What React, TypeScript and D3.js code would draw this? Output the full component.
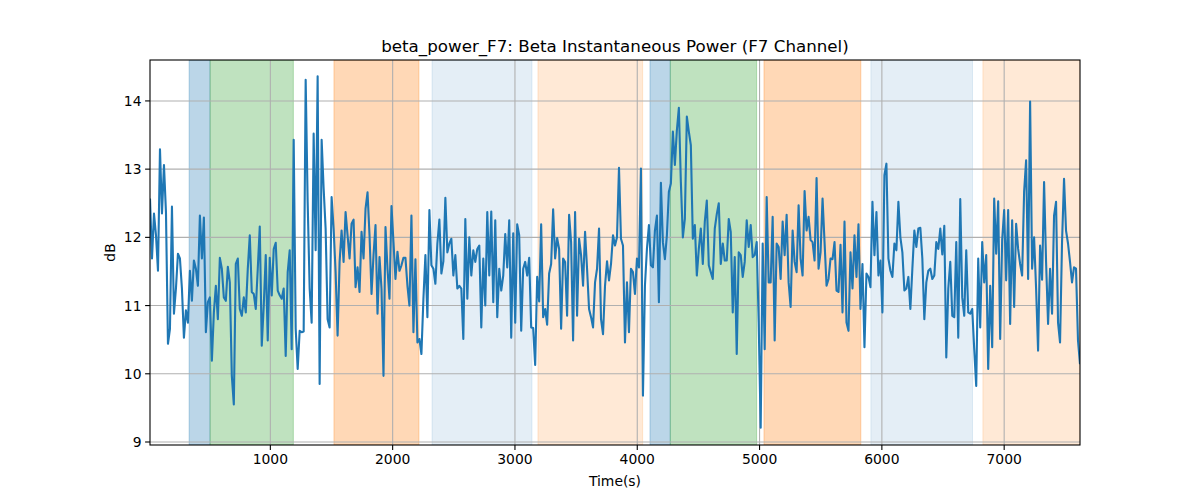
import { useEffect } from "react";
import { scaleLinear, line, range } from "d3";

// beta power samples (dB) left to right
const seg1 = [
  12.57, 11.69, 12.35, 12.03, 11.51, 13.29, 12.35, 13.06, 12.37, 10.44,
  10.66, 12.45, 10.88, 11.25, 11.76, 11.69, 11.25, 10.53, 10.93, 10.75,
  11.51, 11.07, 11.66, 11.54, 11.29, 12.32, 11.69, 12.29, 10.61, 11.05,
  11.12, 10.19, 10.9, 11.29, 10.8, 11.7, 11.54, 11.12, 11.07, 11.57,
  11.34, 9.97, 9.55, 11.61, 11.69, 10.95, 10.85, 11.12, 10.9, 11.54,
  12.03, 11.2, 11.17, 10.95, 11.54, 12.16, 10.41, 11.0, 11.74, 10.49,
  11.7, 11.15, 11.83, 11.92, 11.22, 11.15, 11.1, 11.25, 10.26, 11.49,
  11.81, 10.36, 13.43, 10.66, 10.07, 10.63, 10.61, 10.62,
];
const seg2 = [
  14.31, 12.52, 11.25, 10.75, 13.52, 11.81, 14.36, 9.85, 13.43, 12.72,
  12.13, 10.8, 10.68, 12.59, 12.13, 11.49, 10.56, 11.64, 12.1, 11.64,
  12.37, 12.03, 11.69, 12.2, 12.26, 11.27, 11.56, 11.2, 12.08, 11.69,
  12.42, 12.66, 12.03, 11.17, 11.74, 12.18, 10.88, 11.71, 11.25, 9.97,
  12.15, 11.54, 11.1, 12.46, 11.93, 11.39, 11.79, 11.51, 11.59, 11.7,
  11.7, 11.29, 11.0, 12.32, 10.61, 11.68, 10.46, 10.51, 10.29, 11.1,
  11.74, 10.83, 12.4, 11.59, 11.54, 11.32, 11.91, 12.26, 11.47, 11.65,
  12.58, 11.78, 11.91, 11.98, 11.44, 11.74, 11.25,
];
const seg3 = [
  11.29, 11.25, 10.51, 12.27, 11.1, 12.0, 11.44, 11.81, 11.64, 11.83,
  11.88, 10.68, 11.69, 11.0, 12.37, 11.44, 12.38, 11.05, 12.25, 10.83,
  11.54, 11.22, 11.44, 12.05, 11.56, 12.25, 10.53, 12.06, 10.75, 12.19,
  12.03, 10.63, 11.54, 11.64, 11.44, 11.7, 10.68, 10.67, 10.13, 11.42,
  11.06, 12.19, 10.83, 10.95, 10.72, 11.47, 11.61, 12.41, 11.69, 11.99,
  11.83, 10.66, 11.69, 11.64, 10.85, 12.33, 11.93, 10.49, 12.37, 10.85,
  11.98, 11.74, 11.29, 12.08, 11.54, 10.95, 10.83, 10.68, 11.34, 11.54,
  12.13, 10.8, 10.58, 11.29, 11.65, 11.37, 11.61, 12.03,
];
const seg4 = [
  11.88, 12.0, 13.02, 11.98, 11.88, 10.46, 11.34, 10.61, 11.54, 11.49,
  11.17, 11.69, 11.56, 13.01, 9.68, 11.29, 11.83, 12.18, 11.59, 11.56,
  12.1, 12.32, 11.05, 12.8, 11.93, 11.68, 12.03, 12.67, 12.79, 13.55,
  13.06, 13.57, 13.9, 12.81, 12.0, 12.27, 13.77, 13.55, 13.35, 11.98,
  12.18, 11.44, 11.83, 12.13, 11.61, 12.23, 12.54, 11.59, 11.49, 11.39,
  12.13, 12.34, 12.5, 11.61, 11.91, 11.66, 11.66, 12.27, 12.08, 10.9,
  11.71, 10.29, 11.78, 11.74, 11.42, 11.64, 12.25, 11.86, 12.18, 11.71,
  11.74, 11.93, 10.75, 9.21, 11.91, 10.36, 12.59, 11.34,
];
const seg5 = [
  11.34, 12.3, 10.49, 11.91, 11.86, 11.39, 12.23, 11.74, 12.33, 11.34,
  10.98, 12.1, 11.64, 11.49, 12.47, 11.69, 11.44, 12.68, 12.1, 12.3,
  11.96, 11.93, 11.66, 12.87, 11.54, 11.78, 12.57, 11.93, 11.29, 11.39,
  11.69, 11.68, 11.93, 11.22, 11.2, 11.89, 10.9, 12.23, 10.75, 10.63,
  11.78, 11.25, 12.03, 11.42, 12.19, 10.95, 11.61, 10.39, 11.47, 11.42,
  11.27, 12.52, 11.74, 12.37, 11.44, 11.66, 10.9, 12.91, 13.08, 11.69,
  11.51, 11.42, 11.91, 11.81, 12.52, 12.0, 11.78, 11.22, 11.25, 11.42,
  10.95, 11.54, 12.1, 11.86, 12.13, 12.14, 11.69, 10.8,
];
const seg6 = [
  11.34, 11.51, 11.54, 11.39, 11.44, 11.93, 11.83, 12.13, 11.75, 12.17,
  10.24, 11.25, 11.64, 10.85, 10.83, 11.93, 10.53, 12.56, 11.12, 10.85,
  11.81, 10.9, 10.88, 10.95, 10.36, 9.82, 11.69, 10.68, 11.93, 11.34,
  11.74, 10.07, 11.29, 10.39, 12.57, 11.76, 12.53, 10.51, 11.96, 12.4,
  11.37, 12.4, 10.73, 12.25, 10.98, 12.2, 11.83, 11.61, 11.44, 12.67,
  13.13, 11.39, 13.99, 11.54, 12.0, 11.25, 10.34, 11.88, 11.38, 12.81,
  11.64, 10.73, 11.54, 10.88, 12.32, 12.52, 10.75, 10.46, 11.93, 12.86,
  12.1, 11.91, 11.64, 11.34, 11.56, 11.54, 10.49, 10.14,
];
const betaPower = [...seg1, ...seg2, ...seg3, ...seg4, ...seg5, ...seg6];
const tStart = 16;
const tEnd = 7620;

// shaded stages
const spanStart = [336, 507, 1520, 2322, 3188, 4104, 4270, 5036, 5910, 6826];
const spanEnd = [507, 1188, 2215, 3139, 4044, 4270, 4976, 5828, 6741, 7620];
const spanKind = ["b", "g", "o", "lb", "lo", "b", "g", "o", "lb", "lo"];
const spanColor: Record<string, [string, number]> = {
  b: ["#1f77b4", 0.3],
  g: ["#2ca02c", 0.3],
  o: ["#ff7f0e", 0.3],
  lb: ["#1f77b4", 0.12],
  lo: ["#ff7f0e", 0.17],
};

const xTicks = [1000, 2000, 3000, 4000, 5000, 6000, 7000];
const yTicks = [9, 10, 11, 12, 13, 14];

const W = 1200;
const H = 500;
const m = { left: 150, right: 1080, top: 60, bottom: 445 };
const font = "DejaVu Sans, sans-serif";

export default function App() {
  useEffect(() => {
    document.body.style.margin = "0";
  }, []);

  const dt = (tEnd - tStart) / (betaPower.length - 1);
  const times = range(betaPower.length).map((i) => tStart + i * dt);

  const x = scaleLinear().domain([tStart, tEnd]).range([m.left, m.right]);
  const y = scaleLinear().domain([8.956, 14.6]).range([m.bottom, m.top]);

  const path = line<number>()
    .x((d, i) => x(times[i]))
    .y((d) => y(d))(betaPower);

  return (
    <svg width={W} height={H} style={{ display: "block", background: "#fff" }}>
      <defs>
        <clipPath id="plot">
          <rect x={m.left} y={m.top} width={m.right - m.left} height={m.bottom - m.top} />
        </clipPath>
      </defs>
      <g clipPath="url(#plot)">
        {spanStart.map((s, i) => {
          const [c, a] = spanColor[spanKind[i]];
          return (
            <rect
              key={i}
              x={x(s)}
              y={m.top}
              width={x(spanEnd[i]) - x(s)}
              height={m.bottom - m.top}
              fill={c}
              fillOpacity={a}
              stroke={c}
              strokeOpacity={a}
              strokeWidth={1}
            />
          );
        })}
        {xTicks.map((t) => (
          <line key={t} x1={x(t)} x2={x(t)} y1={m.top} y2={m.bottom} stroke="#b0b0b0" strokeWidth={1.1} />
        ))}
        {yTicks.map((t) => (
          <line key={t} x1={m.left} x2={m.right} y1={y(t)} y2={y(t)} stroke="#b0b0b0" strokeWidth={1.1} />
        ))}
        <path d={path ?? ""} fill="none" stroke="#1f77b4" strokeWidth={2.1} strokeLinejoin="round" />
      </g>
      <rect
        x={m.left}
        y={m.top}
        width={m.right - m.left}
        height={m.bottom - m.top}
        fill="none"
        stroke="#000"
        strokeWidth={1.1}
      />
      {xTicks.map((t) => (
        <g key={t} transform={`translate(${x(t)},${m.bottom})`}>
          <line y2={4.9} stroke="#000" strokeWidth={1.1} />
          <text y={19} textAnchor="middle" fontFamily={font} fontSize={13.9} fill="#000">
            {t}
          </text>
        </g>
      ))}
      {yTicks.map((t) => (
        <g key={t} transform={`translate(${m.left},${y(t)})`}>
          <line x2={-4.9} stroke="#000" strokeWidth={1.1} />
          <text x={-8.5} dy="0.36em" textAnchor="end" fontFamily={font} fontSize={13.9} fill="#000">
            {t}
          </text>
        </g>
      ))}
      <text x={(m.left + m.right) / 2} y={486} textAnchor="middle" fontFamily={font} fontSize={13.9}>
        Time(s)
      </text>
      <text
        transform={`translate(115,${(m.top + m.bottom) / 2}) rotate(-90)`}
        textAnchor="middle"
        fontFamily={font}
        fontSize={13.9}
      >
        dB
      </text>
      <text x={(m.left + m.right) / 2} y={52} textAnchor="middle" fontFamily={font} fontSize={16.7}>
        beta_power_F7: Beta Instantaneous Power (F7 Channel)
      </text>
    </svg>
  );
}
